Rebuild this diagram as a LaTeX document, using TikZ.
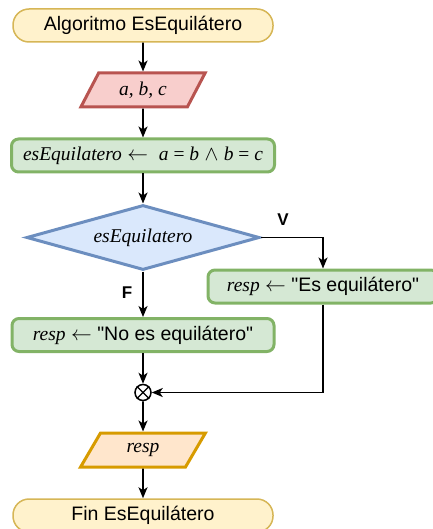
\documentclass[tikz,border=0pt]{standalone}
\usepackage{fontspec}
\setmainfont{Liberation Sans}[Ligatures=TeXOff]
\newfontfamily\serifvar{Liberation Serif}
\usepackage{xcolor}
\usetikzlibrary{arrows.meta}
\usetikzlibrary{shapes.geometric}
\usetikzlibrary{math}
\definecolor{termfill}{HTML}{FFF2CC}
\definecolor{termline}{HTML}{D6B656}
\definecolor{infill}{HTML}{F8CECC}
\definecolor{inline}{HTML}{B85450}
\definecolor{procfill}{HTML}{D5E8D4}
\definecolor{procline}{HTML}{82B366}
\definecolor{condfill}{HTML}{DAE8FC}
\definecolor{condline}{HTML}{6C8EBF}
\definecolor{outfill}{HTML}{FFE6CC}
\definecolor{outline}{HTML}{D79B00}
\newcommand{\vr}[1]{{\serifvar\itshape #1}}
\newcommand{\sr}[1]{{\serifvar #1}}

\begin{document}
\begin{tikzpicture}[x=1pt,y=-1pt,
  font=\fontsize{19.5}{23}\selectfont,
  term/.style={draw=termline, fill=termfill, line width=1.5pt, rounded corners=16pt,
    minimum width=260pt, minimum height=33pt, inner sep=0pt},
  io/.style={trapezium, trapezium left angle=60, trapezium right angle=120,
    trapezium stretches=true, line width=3pt, minimum width=125pt,
    minimum height=34pt, inner sep=0pt},
  proc/.style={draw=procline, fill=procfill, line width=3pt, rounded corners=7pt,
    minimum height=33pt, inner sep=0pt},
  cond/.style={diamond, aspect=3.58, draw=condline, fill=condfill, line width=3pt,
    minimum width=233pt, minimum height=65pt, inner sep=0pt},
  flow/.style={-{Stealth[length=11pt,width=9pt,inset=3pt]}, line width=1.8pt},
  lbl/.style={font=\fontsize{17}{20}\selectfont\bfseries}]
\tikzmath{
\xc=143;
\xr=323;
}
\useasboundingbox (0,0) rectangle (432,529);

%start and input
\node[term] (ini) at (\xc,25.5) {Algoritmo EsEquilátero};
\node[io, draw=inline, fill=infill] (inp) at (\xc,90) {\vr{a, b, c}};

%assignment and decision
\node[proc, minimum width=263pt] (asg) at (\xc,155.5)
  {\vr{esEquilatero} $\leftarrow$~~\vr{a}\sr{ = }\vr{b} $\wedge$ \vr{b}\sr{ = }\vr{c}};
\node[cond] (dec) at (\xc,237.5) {\vr{esEquilatero}};

%branches
\node[proc, minimum width=230pt] (sit) at (\xr,286.5) {\vr{resp} $\leftarrow$ "Es equilátero"};
\node[proc, minimum width=262pt] (sif) at (\xc,335) {\vr{resp} $\leftarrow$ "No es equilátero"};
\node[lbl] (lblv) at (283,220) {V};
\node[lbl] (lblf) at (127,293) {F};

%merge point
\node[circle, draw, line width=1.5pt, minimum size=16pt, inner sep=0pt] (mrg) at (\xc,392.5) {};
\draw[line width=1.3pt] (mrg.north west) -- (mrg.south east) (mrg.north east) -- (mrg.south west);

%output and end
\node[io, draw=outline, fill=outfill] (out) at (\xc,450) {\vr{resp}};
\node[term] (fin) at (\xc,515.5) {Fin EsEquilátero};

%connectors
\draw[flow] (ini) -- (inp);
\draw[flow] (inp) -- (asg);
\draw[flow] (asg) -- (dec);
\draw[flow] (dec.east) -| (sit.north);
\draw[flow] (dec.south) -- (sif.north);
\draw[flow] (sif) -- (mrg);
\draw[flow] (sit.south) |- (mrg.east);
\draw[flow] (mrg) -- (out);
\draw[flow] (out) -- (fin);
\end{tikzpicture}
\end{document}
